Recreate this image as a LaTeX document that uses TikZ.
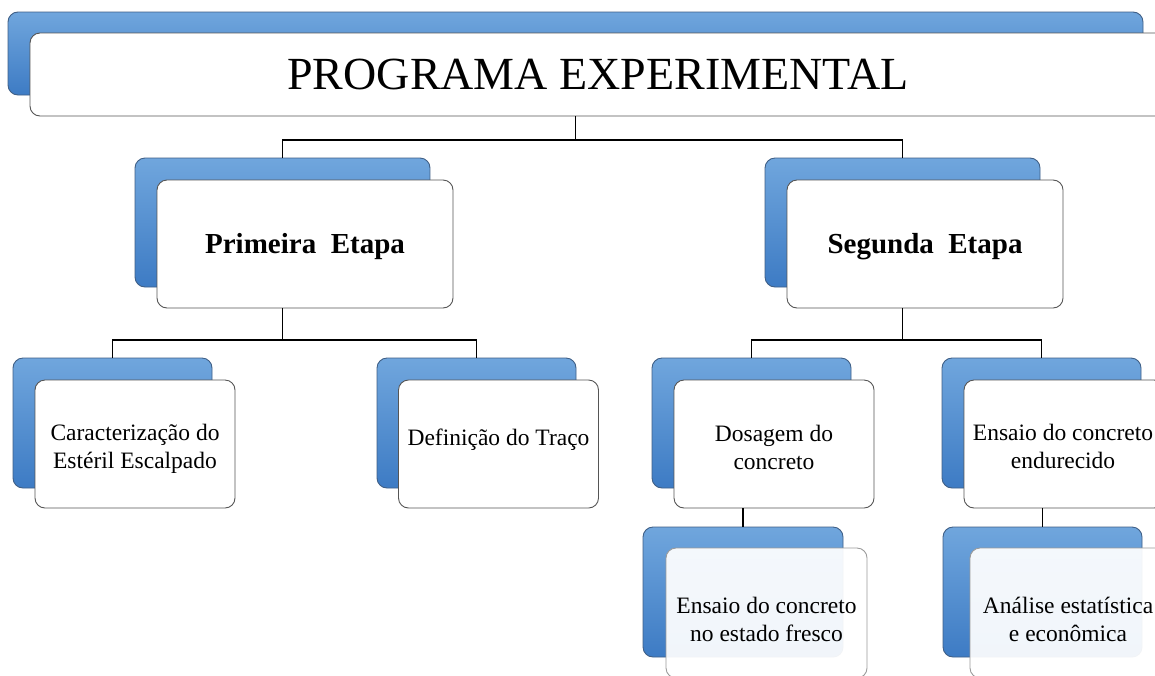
\documentclass[tikz,border=0pt]{standalone}
\usepackage{fontspec}
\setmainfont{Liberation Serif}
\definecolor{bluetop}{HTML}{70A6DD}
\definecolor{bluebot}{HTML}{3D7BC4}
\definecolor{blueline}{HTML}{3F5F86}
\definecolor{grayline}{HTML}{555555}
\definecolor{lightline}{HTML}{9A9A9A}
\tikzset{
  bluebox/.style={rounded corners=10pt, draw=blueline, line width=0.9pt, top color=bluetop, bottom color=bluebot, minimum width=#1, inner sep=0pt},
  whitebox/.style={rounded corners=10pt, draw=grayline, line width=0.9pt, fill=white, minimum width=#1, inner sep=0pt, align=center},
  glassbox/.style={rounded corners=10pt, draw=lightline, line width=0.9pt, fill=white, fill opacity=0.93, text opacity=1, minimum width=#1, inner sep=0pt, align=center},
  conn/.style={draw=black, line width=1.4pt},
  smalltext/.style={font=\fontsize{23.5}{28}\selectfont},
  bigbold/.style={font=\fontsize{29}{32}\selectfont\bfseries},
  label/.style={inner sep=0pt, align=center}
}
\begin{document}
\begin{tikzpicture}[x=1pt,y=-1pt]
\clip (0,0) rectangle (1155,675);
\fill[white] (0,0) rectangle (1155,675);
% top
\node[bluebox=1135pt, minimum height=83pt] (topB) at (575.5,53.5) {};
\node[whitebox=1140pt, minimum height=83pt] (topW) at (600,74.5) {};
\node[label, font=\fontsize{46}{50}\selectfont] (title) at (598,74.5) {PROGRAMA EXPERIMENTAL};
% level 2
\node[bluebox=295pt, minimum height=129pt] (pB) at (282.5,222.5) {};
\node[whitebox=296pt, minimum height=128pt] (pW) at (305,244) {};
\node[label, bigbold] (tp) at (305,247) {Primeira\ \ Etapa};
\node[bluebox=275pt, minimum height=129pt] (sB) at (902.5,222.5) {};
\node[whitebox=276pt, minimum height=128pt] (sW) at (925,244) {};
\node[label, bigbold] (ts) at (925,247) {Segunda\ \ Etapa};
% level 3
\node[bluebox=199pt, minimum height=130pt] (c1B) at (112.5,423) {};
\node[whitebox=200pt, minimum height=128pt] (c1W) at (135,444) {};
\node[label, smalltext] (t1) at (135,449) {Caracterização do\\Estéril Escalpado};
\node[bluebox=199pt, minimum height=130pt] (c2B) at (476.5,423) {};
\node[whitebox=200pt, minimum height=128pt] (c2W) at (498.5,444) {};
\node[label, smalltext] (t2) at (498.5,440) {Definição do Traço};
\node[bluebox=199pt, minimum height=130pt] (c3B) at (751.5,423) {};
\node[whitebox=200pt, minimum height=128pt] (c3W) at (774,444) {};
\node[label, smalltext] (t3) at (774,447) {Dosagem do\\concreto};
\node[bluebox=199pt, minimum height=130pt] (c4B) at (1041.5,423) {};
\node[whitebox=200pt, minimum height=128pt] (c4W) at (1064,444) {};
\node[label, smalltext] (t4) at (1063,446) {Ensaio do concreto\\endurecido};
% level 4
\node[bluebox=200pt, minimum height=130pt] (c5B) at (743,592) {};
\node[glassbox=201pt, minimum height=130pt] (c5W) at (766.5,613) {};
\node[label, smalltext] (t5) at (766.5,619) {Ensaio do concreto\\no estado fresco};
\node[bluebox=199pt, minimum height=130pt] (c6B) at (1042.5,592) {};
\node[glassbox=200pt, minimum height=130pt] (c6W) at (1070,613) {};
\node[label, smalltext] (t6) at (1068,619) {Análise estatística\\e econômica};
% connectors
\coordinate (j0) at (575.5,140);
\draw[conn] (topB.center |- topW.south) -- (j0) -| (pB.north);
\draw[conn] (j0) -| (sB.north);
\coordinate (j1) at (282.5,340);
\draw[conn] (pB.center |- pW.south) -- (j1) -| (c1B.north);
\draw[conn] (j1) -| (c2B.north);
\coordinate (j2) at (902.5,340);
\draw[conn] (sB.center |- sW.south) -- (j2) -| (c3B.north);
\draw[conn] (j2) -| (c4B.north);
\draw[conn] (c5B.north |- c3W.south) -- (c5B.north);
\draw[conn] (c6B.north |- c4W.south) -- (c6B.north);
\end{tikzpicture}
\end{document}
